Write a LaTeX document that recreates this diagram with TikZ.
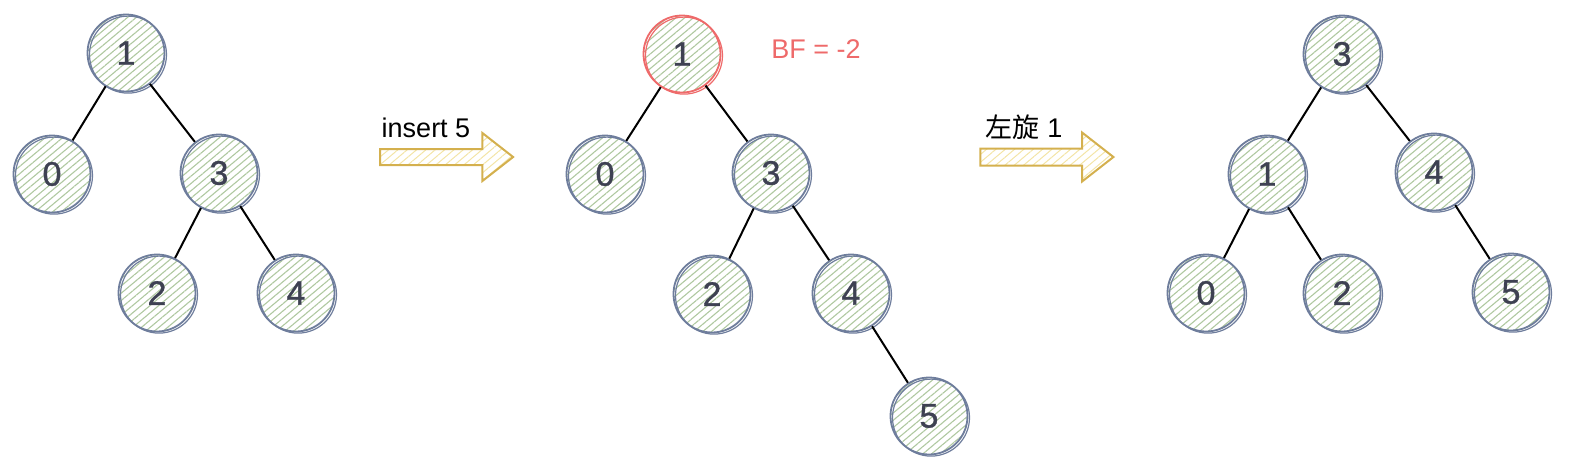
\documentclass[tikz,border=0pt]{standalone}
\usepackage{fontspec}
\setmainfont{Liberation Sans}
\newfontfamily\cjk{Noto Sans CJK SC}
\newfontfamily\digitfont[FakeBold=1]{Liberation Sans}
\usetikzlibrary{patterns.meta,shapes.arrows}

\definecolor{nodeline}{HTML}{6E7D9C}
\definecolor{hatch}{HTML}{AFC8A0}
\definecolor{digit}{HTML}{3E4152}
\definecolor{bad}{HTML}{EE6A6A}
\definecolor{arrline}{HTML}{D4B04E}
\definecolor{arrfill}{HTML}{F3E4A6}

\begin{document}
\begin{tikzpicture}[x=0.5pt,y=0.5pt,
    treenode/.style={circle,draw=#1,line width=0.9pt,minimum size=38.5pt,inner sep=0pt,
      pattern={Lines[angle=40,distance=2.8pt,line width=0.55pt]},pattern color=hatch,
      text=digit,font=\digitfont\fontsize{17}{20}\selectfont,
      postaction={draw=#1,line width=0.6pt,transform canvas={shift={(1pt,-0.8pt)}}}},
    treenode/.default=nodeline,
    fatarrow/.style={single arrow,draw=arrline,line width=1pt,
      pattern={Lines[angle=40,distance=3pt,line width=0.5pt]},pattern color=arrfill,
      minimum height=66.5pt,inner xsep=0pt,inner ysep=3.75pt,text height=0pt,text depth=0pt,
      single arrow head extend=8pt,single arrow tip angle=76},
    edge/.style={line width=1pt},
    lbl/.style={font=\fontsize{13.5}{16}\selectfont}]
  \useasboundingbox (0,0) rectangle (1570,-468);

  \node[treenode] (a1) at (126,-53)  {1};
  \node[treenode] (a0) at (52,-174)  {0};
  \node[treenode] (a3) at (219,-173) {3};
  \node[treenode] (a2) at (157,-293) {2};
  \node[treenode] (a4) at (296,-293) {4};
  \draw[edge] (a1) -- (a0);
  \draw[edge] (a1) -- (a3);
  \draw[edge] (a3) -- (a2);
  \draw[edge] (a3) -- (a4);

  \node[fatarrow] (ins) at (441.5,-157) {};
  \node[lbl] at (426,-128) {insert 5};

  \node[treenode=bad] (b1) at (682,-54) {1};
  \node[treenode] (b0) at (605,-174) {0};
  \node[treenode] (b3) at (771,-173) {3};
  \node[treenode] (b2) at (712,-294) {2};
  \node[treenode] (b4) at (851,-293) {4};
  \node[treenode] (b5) at (929,-416) {5};
  \node[lbl,text=bad] at (816,-49) {BF = -2};
  \draw[edge] (b1) -- (b0);
  \draw[edge] (b1) -- (b3);
  \draw[edge] (b3) -- (b2);
  \draw[edge] (b3) -- (b4);
  \draw[edge] (b4) -- (b5);

  \node[fatarrow] (rot) at (1041.5,-157) {};
  \node[lbl] at (1024,-127) {{\cjk 左旋} 1};

  \node[treenode] (c3) at (1342,-54)  {3};
  \node[treenode] (c1) at (1267,-174) {1};
  \node[treenode] (c4) at (1434,-172) {4};
  \node[treenode] (c0) at (1206,-293) {0};
  \node[treenode] (c2) at (1342,-293) {2};
  \node[treenode] (c5) at (1511,-292) {5};
  \draw[edge] (c3) -- (c1);
  \draw[edge] (c3) -- (c4);
  \draw[edge] (c1) -- (c0);
  \draw[edge] (c1) -- (c2);
  \draw[edge] (c4) -- (c5);
\end{tikzpicture}
\end{document}
